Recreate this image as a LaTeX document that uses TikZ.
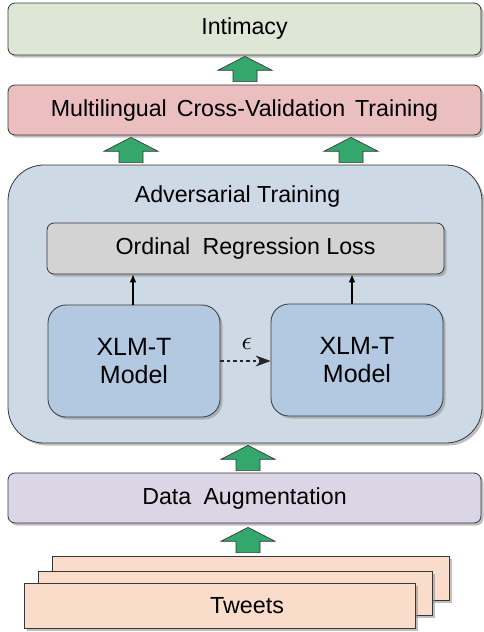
\documentclass[tikz,border=0pt]{standalone}
\usepackage{fontspec}
\setmainfont{Liberation Sans}
\usetikzlibrary{shadows,calc,arrows.meta}
\definecolor{cInt}{RGB}{222,231,214}
\definecolor{cMcv}{RGB}{235,190,192}
\definecolor{cAdv}{RGB}{205,218,230}
\definecolor{cLoss}{RGB}{211,211,211}
\definecolor{cMod}{RGB}{179,201,226}
\definecolor{cDa}{RGB}{218,214,230}
\definecolor{cTw}{RGB}{250,220,203}
\definecolor{cGreen}{RGB}{52,168,108}
\definecolor{cEdge}{RGB}{55,55,55}
\newcommand\fatarrow[2]{%
  \path[fatarrowstyle] let \p1=(#1), \p2=(#2) in
    ({\x1-12pt},\y1) -- ({\x1-12pt},{\y1+0.45*(\y2-\y1)}) -- ({\x1-27pt},{\y1+0.45*(\y2-\y1)})
    -- (\x1,\y2) -- ({\x1+27pt},{\y1+0.45*(\y2-\y1)}) -- ({\x1+12pt},{\y1+0.45*(\y2-\y1)})
    -- ({\x1+12pt},\y1) -- cycle;}
\begin{document}
\begin{tikzpicture}[x=1pt,y=-1pt,
  box/.style={draw=cEdge, line width=0.8pt, rounded corners=7pt, inner sep=0pt,
    drop shadow={shadow xshift=2.5pt, shadow yshift=-2.5pt, fill=black!45, opacity=0.55}},
  txt/.style={font=\fontsize{23.2}{27}\selectfont},
  bigtxt/.style={font=\fontsize{25}{28}\selectfont, align=center},
  fatarrowstyle/.style={fill=cGreen, draw=cEdge, line width=0.7pt},
  smallarrow/.style={draw=black, line width=1.4pt, -{Latex[length=8pt,width=7pt]}},
  tweetbox/.style={draw=cEdge, line width=0.8pt, fill=cTw, inner sep=0pt,
    drop shadow={shadow xshift=2.5pt, shadow yshift=-2.5pt, fill=black!45, opacity=0.55}}]
\useasboundingbox (0,0) rectangle (483,632);
\fill[white] (0,0) rectangle (483,632);

% top boxes
\node[box, txt, fill=cInt, minimum width=473pt, minimum height=52pt] (intim) at (244.5,29) {Intimacy};
\node[box, txt, fill=cMcv, minimum width=473pt, minimum height=50pt] (mcv) at (244.5,110)
  {Multilingual\hspace{0.15em} Cross-Validation\hspace{0.15em} Training};

% adversarial container
\node[box, fill=cAdv, rounded corners=36pt, minimum width=474pt, minimum height=278pt] (adv) at (245,304) {};
\node[txt] (advtitle) at (237.5,196) {Adversarial Training};
\node[box, txt, fill=cLoss, minimum width=397pt, minimum height=51pt] (loss) at (245.5,248.5)
  {Ordinal\hspace{0.25em} Regression Loss};
\node[box, bigtxt, fill=cMod, rounded corners=18pt, minimum width=172pt, minimum height=112pt] (lm) at (134,361)
  {XLM-T\\Model};
\node[box, bigtxt, fill=cMod, rounded corners=18pt, minimum width=172pt, minimum height=112pt] (rm) at (357,360)
  {XLM-T\\Model};

\draw[smallarrow] ([xshift=-1pt]lm.north) -- ([xshift=-1pt]lm.north |- loss.south);
\draw[smallarrow] ([xshift=-5pt]rm.north) -- ([xshift=-5pt]rm.north |- loss.south);
\draw[draw=black!85, line width=1.3pt, dash pattern=on 3.5pt off 3pt, -{Stealth[length=15pt,width=11pt]}]
  (lm.east) -- (lm.east -| rm.west);
\node (eps) at (247,344) {\scalebox{2.6}{$\epsilon$}};

% data augmentation
\node[box, txt, fill=cDa, minimum width=473pt, minimum height=50pt] (da) at (244.5,498)
  {Data\hspace{0.25em} Augmentation};

% tweets stack
\node[tweetbox, minimum width=397pt, minimum height=44pt] (tw3) at (250.5,578) {};
\node[tweetbox, minimum width=394pt, minimum height=44pt] (tw2) at (235,593) {};
\node[tweetbox, minimum width=391pt, minimum height=45pt] (tw1) at (219.5,605.5) {};
\node[font=\fontsize{23.3}{27}\selectfont] (twtxt) at (247,606) {Tweets};

% fat arrows
\fatarrow{$(mcv.north)+(0.5,-3)$}{$(intim.south)+(0.5,1)$}
\fatarrow{$(adv.north)+(-114,-2)$}{$(mcv.south)+(-113.5,2)$}
\fatarrow{$(adv.north)+(106,-2)$}{$(mcv.south)+(106.5,2)$}
\fatarrow{$(da.north)+(3.5,-2)$}{$(adv.south)+(3,2)$}
\fatarrow{$(tw3.north)+(-2.5,-3)$}{$(da.south)+(3.5,4)$}
\end{tikzpicture}
\end{document}
